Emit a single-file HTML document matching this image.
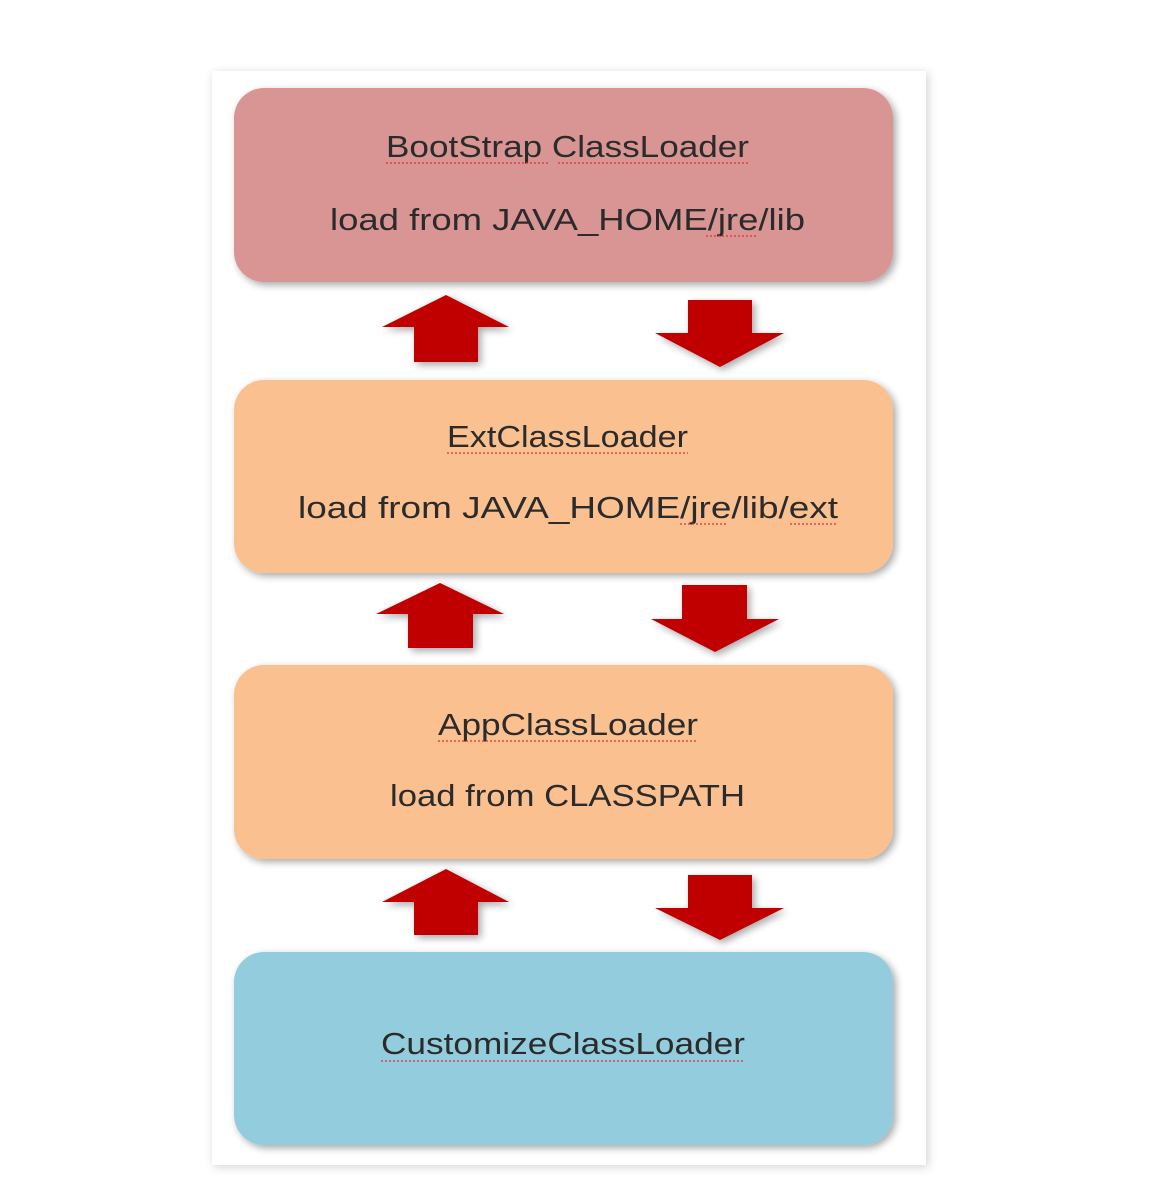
<!DOCTYPE html>
<html><head><meta charset="utf-8"><style>
html,body{margin:0;padding:0;background:#fff;}
svg{display:block;}
text{font-family:"Liberation Sans",sans-serif;font-size:31px;fill:#2b2b2b;}
</style></head><body>
<svg width="1150" height="1200" viewBox="0 0 1150 1200" xmlns="http://www.w3.org/2000/svg">
<defs>
<filter id="fs" x="-10%" y="-10%" width="130%" height="130%"><feGaussianBlur in="SourceAlpha" stdDeviation="4"/><feOffset dx="3" dy="3"/><feComponentTransfer><feFuncA type="linear" slope="0.35"/></feComponentTransfer><feMerge><feMergeNode/><feMergeNode in="SourceGraphic"/></feMerge></filter>
<filter id="ps" x="-5%" y="-5%" width="110%" height="110%"><feGaussianBlur in="SourceAlpha" stdDeviation="5"/><feOffset dx="2" dy="2"/><feComponentTransfer><feFuncA type="linear" slope="0.18"/></feComponentTransfer><feMerge><feMergeNode/><feMergeNode in="SourceGraphic"/></feMerge></filter>
</defs>
<rect x="212" y="71" width="714" height="1094" fill="#fff" filter="url(#ps)"/>
<g filter="url(#fs)">
<rect x="234" y="88" width="659" height="194" rx="30" fill="#d99594"/>
<rect x="234" y="380" width="659" height="193" rx="30" fill="#fac090"/>
<rect x="234" y="665" width="659" height="194" rx="30" fill="#fac090"/>
<rect x="234" y="952" width="659" height="193" rx="30" fill="#93cddd"/>
</g>
<g fill="#c00000" filter="url(#fs)">
<polygon points="446,295 509,327 478,327 478,362 414,362 414,327 382,327"/>
<polygon points="688,300 752,300 752,333 784,333 720,367 655,333 688,333"/>
<polygon points="440,583 504,614 473,614 473,648 408,648 408,614 376,614"/>
<polygon points="682,585 747,585 747,619 779,619 715,652 651,619 682,619"/>
<polygon points="446,869 509,902 478,902 478,935 414,935 414,902 382,902"/>
<polygon points="688,875 752,875 752,908 784,908 720,940 655,908 688,908"/>
</g>
<text x="386" y="157" textLength="363" lengthAdjust="spacingAndGlyphs">BootStrap ClassLoader</text>
<text x="330" y="230" textLength="475" lengthAdjust="spacingAndGlyphs">load from JAVA_HOME/jre/lib</text>
<text x="447" y="447" textLength="241" lengthAdjust="spacingAndGlyphs">ExtClassLoader</text>
<text x="298" y="518" textLength="540" lengthAdjust="spacingAndGlyphs">load from JAVA_HOME/jre/lib/ext</text>
<text x="438" y="735" textLength="260" lengthAdjust="spacingAndGlyphs">AppClassLoader</text>
<text x="390" y="806" textLength="355" lengthAdjust="spacingAndGlyphs">load from CLASSPATH</text>
<text x="381" y="1054" textLength="364" lengthAdjust="spacingAndGlyphs">CustomizeClassLoader</text>
<g stroke="#e03030" stroke-width="1.2" stroke-dasharray="2,2" fill="none">
<line x1="386" y1="163" x2="550" y2="163"/><line x1="558" y1="163" x2="749" y2="163"/>
<line x1="706" y1="236" x2="756" y2="236"/>
<line x1="447" y1="453" x2="688" y2="453"/>
<line x1="680" y1="524" x2="728" y2="524"/><line x1="790" y1="524" x2="838" y2="524"/>
<line x1="438" y1="741" x2="698" y2="741"/>
<line x1="381" y1="1061" x2="745" y2="1061"/>
</g>
</svg>
</body></html>
